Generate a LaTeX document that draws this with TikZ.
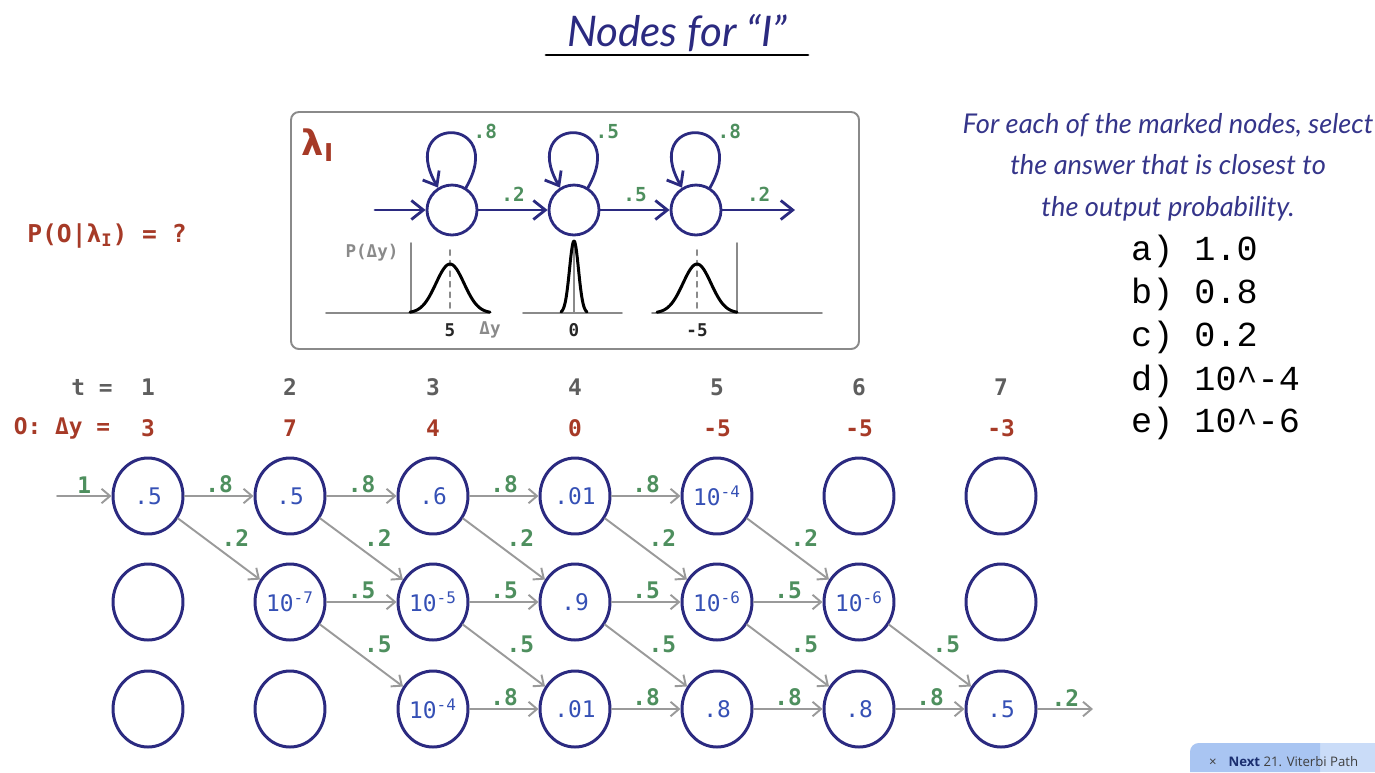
\documentclass[tikz,border=0pt]{standalone}
\usepackage{fontspec}
\usepackage{tikz}
\usetikzlibrary{arrows.meta,calc,positioning,shapes.geometric}
\setmainfont{DejaVu Sans}
\newfontfamily\numfont{DejaVu Sans Mono}
\newfontfamily\handfont{Lato}
\newfontfamily\ansfont{Liberation Mono}
\newfontfamily\uifont{Open Sans}
\definecolor{statenavy}{HTML}{2B2A80}
\definecolor{nodeblue}{HTML}{3550B5}
\definecolor{probgreen}{HTML}{4E8F5E}
\definecolor{obsred}{HTML}{A63A27}
\definecolor{arrowgray}{HTML}{9A9A9A}
\definecolor{headgray}{HTML}{5E5E5E}
\definecolor{handnavy}{HTML}{35358A}
\definecolor{framegray}{HTML}{8A8A8A}
\definecolor{nextdark}{HTML}{A9C5F2}
\definecolor{nextlight}{HTML}{CADCF8}
\definecolor{nextnavy}{HTML}{1B2F70}
\tikzset{
every picture/.style={line cap=round,line join=round},
trellis node/.style={
  ellipse,
  draw=statenavy,
  line width=1.7pt,
  minimum width=1.4cm,
  minimum height=1.52cm,
  inner sep=0pt,
  text=nodeblue,
  font=\numfont\fontsize{13}{15}\selectfont
},
hmm state/.style={circle, draw=statenavy, line width=1.6pt, minimum size=1cm, inner sep=0pt},
trellis arrow/.style={
  draw=arrowgray,
  line width=1.1pt,
  -{Straight Barb[length=1.7mm,width=2.9mm]}
},
hmm arrow/.style={
  draw=statenavy,
  line width=1.6pt,
  -{Straight Barb[length=2.4mm,width=3.8mm]}
},
prob label/.style={font=\numfont\bfseries\fontsize{13}{15}\selectfont, text=probgreen, inner sep=1pt},
hmm label/.style={font=\numfont\bfseries\fontsize{11}{13}\selectfont, text=probgreen, inner sep=1pt},
time text/.style={font=\numfont\bfseries\fontsize{13}{15}\selectfont, text=headgray},
obs text/.style={font=\numfont\bfseries\fontsize{13}{15}\selectfont, text=obsred},
axis line/.style={draw=framegray, line width=0.9pt},
curve line/.style={draw=black, line width=1.7pt, smooth},
axis text/.style={font=\numfont\bfseries\fontsize{10}{12}\selectfont, text=framegray},
tick text/.style={font=\numfont\bfseries\fontsize{10}{12}\selectfont, text=black!85},
model frame/.style={draw=framegray, line width=1.1pt, rounded corners=4.5pt},
title text/.style={font=\handfont\itshape\fontsize{24}{28}\selectfont, text=statenavy},
hand text/.style={font=\handfont\itshape\fontsize{15.5}{23.7}\selectfont, text=handnavy, align=center},
answer text/.style={font=\ansfont\fontsize{20}{24}\selectfont, text=black, anchor=west},
next text/.style={font=\uifont\fontsize{7.5}{9}\selectfont, text=black!75, anchor=west}
}

\begin{document}
\begin{tikzpicture}[x=0.02cm,y=0.02cm]
\useasboundingbox (0,0) rectangle (1375,-772);

% title
\node[title text] (title) at (677,-33) {Nodes for “I”};
\draw[line width=1.6pt] (546,-55) -- (808,-55);

% the model lambda_I
\draw[model frame] (291,-112) rectangle (859,-349);
\node[font=\bfseries\fontsize{20}{22}\selectfont, text=obsred] (lam) at (318,-145) {λ\textsubscript{I}};
\node[hmm state] (s1) at (452,-210) {};
\node[hmm state] (s2) at (574,-210) {};
\node[hmm state] (s3) at (696,-210) {};
\coordinate (hin) at (375,-210);
\coordinate (hout) at (795,-210);
\draw[hmm arrow] (hin) -- (s1);
\draw[hmm arrow] (s1) -- node[hmm label, above=3pt] {.2} (s2);
\draw[hmm arrow] (s2) -- node[hmm label, above=3pt] {.5} (s3);
\draw[hmm arrow] (s3) -- node[hmm label, above=3pt] {.2} (hout);
\draw[hmm arrow] (s1.58) .. controls +(60:84) and +(120:84) .. node[hmm label, pos=0.3, above right] {.8} (s1.122);
\draw[hmm arrow] (s2.58) .. controls +(60:84) and +(120:84) .. node[hmm label, pos=0.3, above right] {.5} (s2.122);
\draw[hmm arrow] (s3.58) .. controls +(60:84) and +(120:84) .. node[hmm label, pos=0.3, above right] {.8} (s3.122);

% output densities
\draw[axis line] (326,-313) -- (489,-313);
\draw[axis line] (411,-243) -- (411,-313);
\draw[axis line, dashed] (450,-250) -- (450,-313);
\draw[curve line, domain=410:490, samples=50] plot (\x,{-313+49*exp(-0.5*((\x-450)/14)^2)});
\node[axis text] at (372,-253) {P(Δy)};
\node[tick text] at (450,-330) {5};
\node[axis text] at (490,-330) {Δy};
\draw[axis line] (523,-313) -- (622,-313);
\draw[axis line] (574,-245) -- (574,-313);
\draw[curve line, domain=561:587, samples=50] plot (\x,{-313+72*exp(-0.5*((\x-574)/4.5)^2)});
\node[tick text] at (574,-330) {0};
\draw[axis line] (652,-313) -- (822,-313);
\draw[axis line] (737,-243) -- (737,-313);
\draw[axis line, dashed] (697,-250) -- (697,-313);
\draw[curve line, domain=657:737, samples=50] plot (\x,{-313+49*exp(-0.5*((\x-697)/14)^2)});
\node[tick text] at (697,-330) {-5};

% question
\node[font=\numfont\bfseries\fontsize{14}{16}\selectfont, text=obsred] (pq) at (107,-236) {P(O|λ\textsubscript{I}) = ?};
\node[hand text] (task) at (1168,-167) {For each of the marked nodes, select\\the answer that is closest to\\the output probability.};
\node[answer text] (ansa) at (1125,-251) {a) 1.0};
\node[answer text] (ansb) at (1125,-294) {b) 0.8};
\node[answer text] (ansc) at (1125,-337) {c) 0.2};
\node[answer text] (ansd) at (1125,-381) {d) 10\string^-4};
\node[answer text] (anse) at (1125,-423) {e) 10\string^-6};

% time steps and observations
\node[time text] at (92,-387) {t =};
\node[time text] at (148,-387) {1};
\node[time text] at (290,-387) {2};
\node[time text] at (433,-387) {3};
\node[time text] at (575,-387) {4};
\node[time text] at (717,-387) {5};
\node[time text] at (859,-387) {6};
\node[time text] at (1001,-387) {7};
\node[obs text] at (62,-428) {O: Δy =};
\node[obs text] at (148,-428) {3};
\node[obs text] at (290,-428) {7};
\node[obs text] at (433,-428) {4};
\node[obs text] at (575,-428) {0};
\node[obs text] at (717,-428) {-5};
\node[obs text] at (859,-428) {-5};
\node[obs text] at (1001,-428) {-3};

% trellis
\node[trellis node] (r1c1) at (148,-496) {.5};
\node[trellis node] (r1c2) at (290,-496) {.5};
\node[trellis node] (r1c3) at (433,-496) {.6};
\node[trellis node] (r1c4) at (575,-496) {.01};
\node[trellis node] (r1c5) at (717,-496) {10\textsuperscript{-4}};
\node[trellis node] (r1c6) at (859,-496) {};
\node[trellis node] (r1c7) at (1001,-496) {};
\node[trellis node] (r2c1) at (148,-602) {};
\node[trellis node] (r2c2) at (290,-602) {10\textsuperscript{-7}};
\node[trellis node] (r2c3) at (433,-602) {10\textsuperscript{-5}};
\node[trellis node] (r2c4) at (575,-602) {.9};
\node[trellis node] (r2c5) at (717,-602) {10\textsuperscript{-6}};
\node[trellis node] (r2c6) at (859,-602) {10\textsuperscript{-6}};
\node[trellis node] (r2c7) at (1001,-602) {};
\node[trellis node] (r3c1) at (148,-709) {};
\node[trellis node] (r3c2) at (290,-709) {};
\node[trellis node] (r3c3) at (433,-709) {10\textsuperscript{-4}};
\node[trellis node] (r3c4) at (575,-709) {.01};
\node[trellis node] (r3c5) at (717,-709) {.8};
\node[trellis node] (r3c6) at (859,-709) {.8};
\node[trellis node] (r3c7) at (1001,-709) {.5};
\coordinate (tin) at (57,-496);
\coordinate (tout) at (1093,-709);

\draw[trellis arrow] (tin) -- node[prob label, above, pos=0.5] {1} (r1c1);
\draw[trellis arrow] (r1c1) -- node[prob label, above] {.8} (r1c2);
\draw[trellis arrow] (r1c2) -- node[prob label, above] {.8} (r1c3);
\draw[trellis arrow] (r1c3) -- node[prob label, above] {.8} (r1c4);
\draw[trellis arrow] (r1c4) -- node[prob label, above] {.8} (r1c5);
\draw[trellis arrow] (r1c1) -- node[prob label, above right] {.2} (r2c2);
\draw[trellis arrow] (r1c2) -- node[prob label, above right] {.2} (r2c3);
\draw[trellis arrow] (r1c3) -- node[prob label, above right] {.2} (r2c4);
\draw[trellis arrow] (r1c4) -- node[prob label, above right] {.2} (r2c5);
\draw[trellis arrow] (r1c5) -- node[prob label, above right] {.2} (r2c6);
\draw[trellis arrow] (r2c2) -- node[prob label, above] {.5} (r2c3);
\draw[trellis arrow] (r2c3) -- node[prob label, above] {.5} (r2c4);
\draw[trellis arrow] (r2c4) -- node[prob label, above] {.5} (r2c5);
\draw[trellis arrow] (r2c5) -- node[prob label, above] {.5} (r2c6);
\draw[trellis arrow] (r2c2) -- node[prob label, above right] {.5} (r3c3);
\draw[trellis arrow] (r2c3) -- node[prob label, above right] {.5} (r3c4);
\draw[trellis arrow] (r2c4) -- node[prob label, above right] {.5} (r3c5);
\draw[trellis arrow] (r2c5) -- node[prob label, above right] {.5} (r3c6);
\draw[trellis arrow] (r2c6) -- node[prob label, above right] {.5} (r3c7);
\draw[trellis arrow] (r3c3) -- node[prob label, above] {.8} (r3c4);
\draw[trellis arrow] (r3c4) -- node[prob label, above] {.8} (r3c5);
\draw[trellis arrow] (r3c5) -- node[prob label, above] {.8} (r3c6);
\draw[trellis arrow] (r3c6) -- node[prob label, above] {.8} (r3c7);
\draw[trellis arrow] (r3c7) -- node[prob label, above] {.2} (tout);

% next lesson bar
\fill[nextlight] (1300,-743) rectangle (1375,-772);
\fill[nextdark] (1320,-772) -- (1190,-772) [rounded corners=5] -- (1190,-743) [sharp corners] -- (1320,-743) -- cycle;
\node[next text] (next) at (1203,-762) {×\hspace{0.9em}{\bfseries\color{nextnavy}Next} 21. Viterbi Path};
\end{tikzpicture}
\end{document}
